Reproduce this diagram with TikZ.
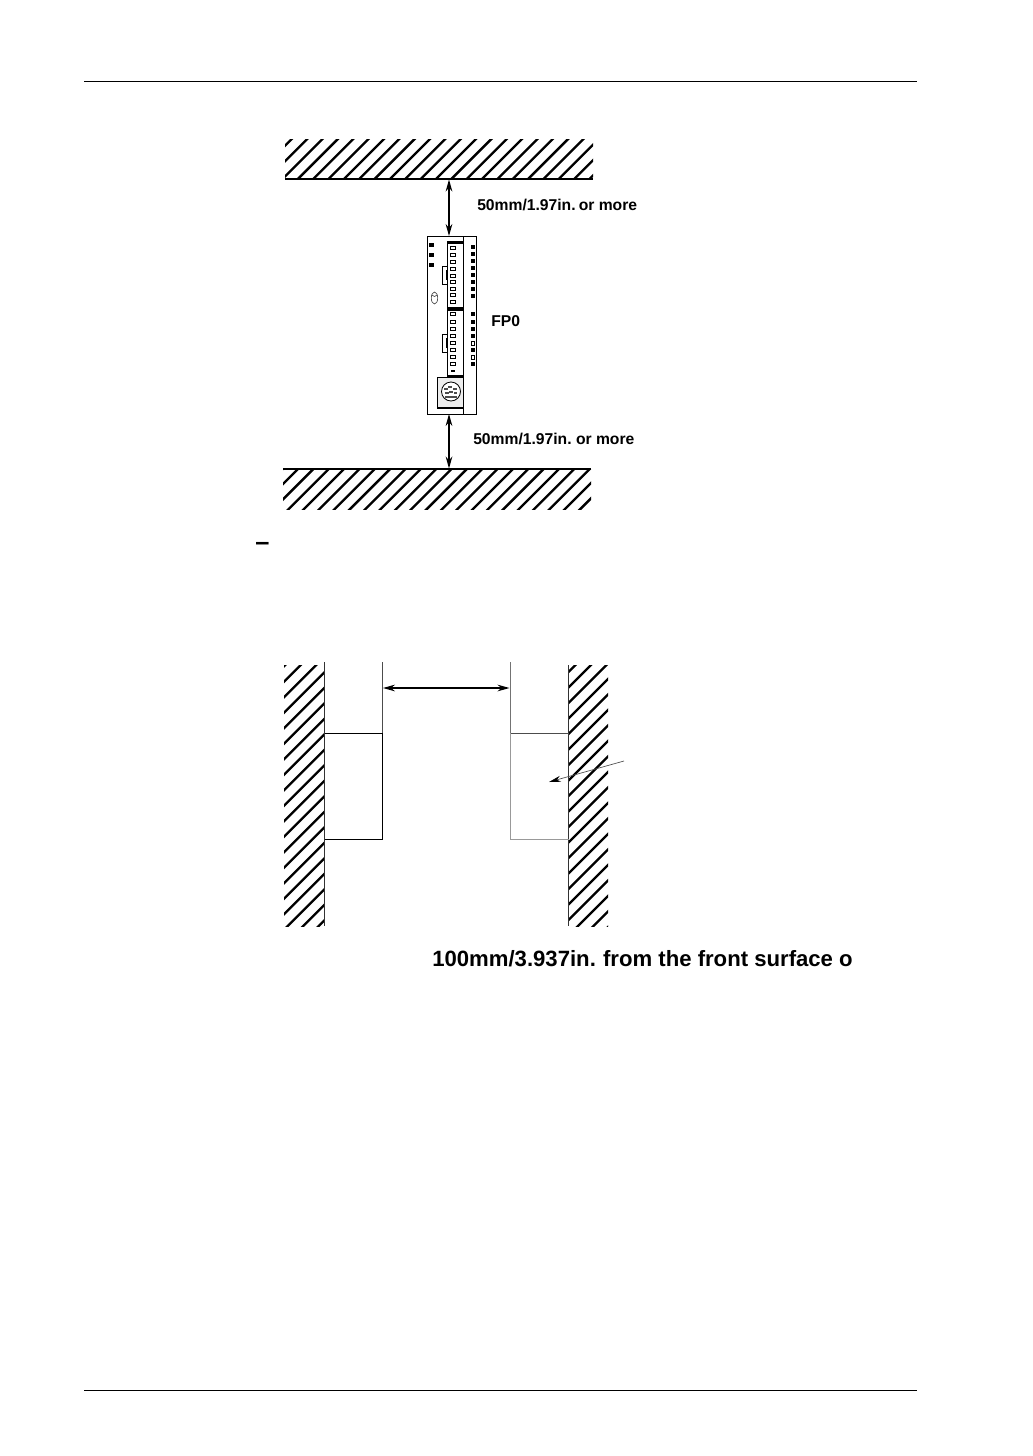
\documentclass[tikz,border=0pt]{standalone}
\usepackage{fontspec}
\setmainfont{Liberation Sans}
\usetikzlibrary{arrows.meta}
\tikzset{
  px/.style={x=0.75pt,y=-0.75pt},
  hatchline/.style={line width=1.75pt},
  wall/.style={line width=0.85pt},
  part/.style={line width=0.65pt,draw=black},
  dim/.style={line width=0.9pt,{Stealth[length=9pt,width=5pt]}-{Stealth[length=9pt,width=5pt]}},
  lab/.style={anchor=base west,inner sep=0pt,font=\fontsize{11.75pt}{14pt}\selectfont\bfseries},
  biglab/.style={anchor=base west,inner sep=0pt,font=\fontsize{16.6pt}{20pt}\selectfont\bfseries}
}
\newcommand{\hatchbox}[6]{%
  \begin{scope}
    \clip (#1,#2) rectangle (#3,#4);
    \foreach \k in {-6,...,40} {
      \pgfmathsetmacro{\cc}{#5+#6*\k}
      \draw[hatchline] (\cc-1500,1500) -- (\cc+500,-500);
    }
  \end{scope}}
\begin{document}
\begin{tikzpicture}[px]
\useasboundingbox (0,0) rectangle (1032,1456);
\fill[white] (0,0) rectangle (1032,1456);
% page rules
\coordinate (r1a) at (84,81.5); \coordinate (r1b) at (917,81.5);
\coordinate (r2a) at (84,1390.5); \coordinate (r2b) at (917,1390.5);
\draw[line width=0.6pt] (r1a) -- (r1b);
\draw[line width=0.6pt] (r2a) -- (r2b);
% top and bottom walls
\hatchbox{285}{139.5}{593}{179}{461.5}{15.35}
\coordinate (wt1) at (285,179); \coordinate (wt2) at (593,179);
\draw[wall] (wt1) -- (wt2);
\hatchbox{283}{469}{591}{509}{767}{15.35}
\coordinate (wb1) at (283,469); \coordinate (wb2) at (591,469);
\draw[wall] (wb1) -- (wb2);
% device
\draw[part] (427,236) rectangle (476.5,414);
\coordinate (devtop) at (449,236); \coordinate (devbot) at (449,414);
\coordinate (walltop) at (449,179.5); \coordinate (wallbot) at (449,468.5);
\draw[line width=0.8pt] (463.5,236) -- (463.5,414);
\draw[line width=0.9pt] (447.5,241) -- (447.5,376) -- (463.5,376);
\fill (447,240.5) rectangle (463.5,243.5);
\fill (447,307) rectangle (463.5,311);
\foreach \y in {245,255,265} \fill (429,\y-2) rectangle (434,\y+2);
\foreach \y in {247,254,261,268,275,282,289,296,314,322,329,336,350,364}
  \fill (471,\y-2.2) rectangle (475,\y+2.2);
\foreach \y in {343,357}
  \draw[line width=0.5pt] (471.3,\y-2) rectangle (474.7,\y+2);
\foreach \y in {247.5,254.5,261.5,268.5,275.5,282,288.5,295,302,314,322,329,336,343,350,357,364}
  \draw[line width=0.55pt] (450.5,\y-1.6) rectangle (455,\y+1.6);
\fill (450.5,370) rectangle (455,372);
\draw[part,fill=white] (442,266) rectangle (447.5,284);
\draw[part,fill=white] (442,334) rectangle (447.5,352);
\fill (446,270) rectangle (447.8,280);
\fill (446,338) rectangle (447.8,348);
\draw[line width=0.45pt,draw=black!75] (434.5,298) ellipse (3.2 and 6);
\draw[line width=0.45pt,draw=black!75] (432,295) .. controls (433,297) and (436,297) .. (437,295);
\draw[line width=0.9pt,fill=black!7] (437.5,377.5) rectangle (463.5,408);
\draw[line width=0.6pt,fill=white] (451,391.5) circle (9.5);
\foreach \a/\b in {446/388,450/386,455/388,447/392,451/391,455.5/392,447/396,451/396,455/396}
  \draw[line width=0.6pt,draw=black!70] (\a-1.3,\b) rectangle (\a+1.3,\b+1.5);
% dims
\draw[dim] (walltop) -- (devtop);
\draw[dim] (devbot) -- (wallbot);
\node[lab] (l1) at (477,210) {50mm/1.97in.\hspace{0.2em}or more};
\node[lab] (l2) at (491,326) {FP0};
\node[lab] (l3) at (473,444) {50mm/1.97in.\hspace{0.28em}or more};
\node[biglab,font=\fontsize{19pt}{20pt}\selectfont\bfseries] (dash) at (255,550) {–};
% side walls
\hatchbox{284}{665}{324.5}{926}{965.7}{15.5}
\hatchbox{568.5}{665}{608}{926}{1256}{15.5}
\coordinate (wl1) at (324.5,662); \coordinate (wl2) at (324.5,926);
\coordinate (wr1) at (568.5,665); \coordinate (wr2) at (568.5,926);
\draw[line width=0.6pt,draw=black!80] (wl1) -- (wl2);
\draw[line width=0.6pt,draw=black!80] (wr1) -- (wr2);
% left unit
\coordinate (ul1) at (382.5,662); \coordinate (ul2) at (382.5,733);
\draw[line width=0.6pt,draw=black!70] (ul1) -- (ul2);
\draw[line width=0.7pt] (324.5,733.5) -- (382.5,733.5) -- (382.5,839) -- (324.5,839);
% right unit
\coordinate (ur1) at (510,662); \coordinate (ur2) at (510,733);
\draw[line width=0.6pt,draw=black!55] (ur1) -- (ur2);
\draw[line width=0.6pt,draw=black!70] (510,733.5) -- (568.5,733.5);
\draw[line width=0.75pt,draw=black!40] (510,733) -- (510,839) -- (568.5,839);
\coordinate (da) at (383,688); \coordinate (db) at (509.5,688);
\draw[dim] (da) -- (db);
% pointer
\coordinate (p1) at (624,761); \coordinate (p2) at (549,782);
\draw[line width=0.5pt,draw=black!70,-{Stealth[length=9pt,width=4.5pt,black]}] (p1) -- (p2);
\node[biglab] (l4) at (432,966) {100mm/3.937in.\hspace{0.325em}from the front surface o};
\end{tikzpicture}
\end{document}
